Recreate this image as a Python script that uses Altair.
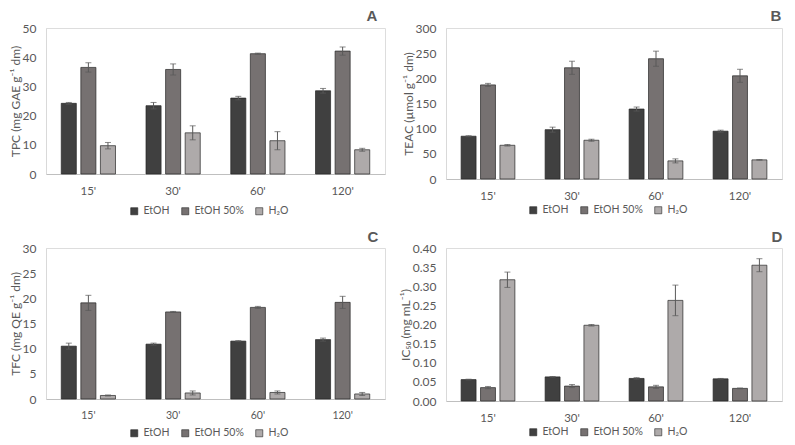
import altair as alt
import pandas as pd

times = ["15'", "30'", "60'", "120'"]
series = ["EtOH", "EtOH 50%", "H₂O"]
colors = ["#404040", "#767171", "#aeaaaa"]

# Panel A - TPC
tpc_etoh = [24.2, 23.4, 26.0, 28.5]
tpc_etoh_err = [0.3, 1.1, 0.6, 0.8]
tpc_etoh50 = [36.5, 35.8, 41.2, 42.1]
tpc_etoh50_err = [1.6, 1.9, 0.2, 1.4]
tpc_h2o = [9.7, 14.1, 11.4, 8.3]
tpc_h2o_err = [1.1, 2.4, 3.1, 0.5]

# Panel B - TEAC
teac_etoh = [85, 98, 139, 95]
teac_etoh_err = [1, 5, 4, 2]
teac_etoh50 = [187, 221, 239, 205]
teac_etoh50_err = [3, 13, 15, 13]
teac_h2o = [67, 77, 36, 38]
teac_h2o_err = [1.5, 2, 4, 0.5]

# Panel C - TFC
tfc_etoh = [10.5, 10.9, 11.5, 11.8]
tfc_etoh_err = [0.6, 0.2, 0.1, 0.3]
tfc_etoh50 = [19.1, 17.3, 18.2, 19.2]
tfc_etoh50_err = [1.5, 0.1, 0.2, 1.2]
tfc_h2o = [0.7, 1.2, 1.3, 1.0]
tfc_h2o_err = [0.1, 0.4, 0.3, 0.3]

# Panel D - IC50
ic_etoh = [0.056, 0.063, 0.059, 0.058]
ic_etoh_err = [0.001, 0.001, 0.002, 0.001]
ic_etoh50 = [0.035, 0.039, 0.037, 0.033]
ic_etoh50_err = [0.003, 0.004, 0.004, 0.001]
ic_h2o = [0.317, 0.198, 0.263, 0.355]
ic_h2o_err = [0.020, 0.002, 0.040, 0.017]

FONT = "Lato"
GREY = "#595959"


def make_df(vals, errs):
    rows = []
    for s, v, e in zip(series, vals, errs):
        for t, vv, ee in zip(times, v, e):
            rows.append({"time": t, "series": s, "value": vv,
                         "lo": vv - ee, "hi": vv + ee})
    return pd.DataFrame(rows)


def panel(df, ymax, step, ytitle, letter, fmt, w, h, lx, ly, letx, lety, xfs=11.5):
    base = alt.Chart(df)
    ticks = [round(i * step, 4) for i in range(int(round(ymax / step)) + 1)]
    x = alt.X("time:N", sort=times, title=None,
              scale=alt.Scale(paddingInner=0.36, paddingOuter=0.18),
              axis=alt.Axis(labelAngle=0, ticks=False, domainColor="#bfbfbf",
                            labelColor=GREY, labelFont=FONT, labelFontSize=xfs,
                            labelPadding=11))
    xo = alt.XOffset("series:N", sort=series,
                     scale=alt.Scale(paddingInner=0.23, paddingOuter=0))
    yscale = alt.Scale(domain=[0, ymax], nice=False, zero=True)
    yaxis = alt.Axis(values=ticks, format=fmt, grid=False, ticks=False,
                     domainColor="#d9d9d9", labelColor=GREY, labelFont=FONT,
                     labelFontSize=12, labelPadding=10, titleColor=GREY,
                     titleFont=FONT, titleFontSize=12, titleFontWeight="normal",
                     titlePadding=0)
    color = alt.Color("series:N", sort=series,
                      scale=alt.Scale(domain=series, range=colors),
                      legend=alt.Legend(orient="none", legendX=lx, legendY=ly,
                                        direction="horizontal", title=None,
                                        symbolType="square", symbolSize=50,
                                        symbolStrokeColor="#262626",
                                        symbolStrokeWidth=0.6,
                                        labelColor=GREY, labelFont=FONT,
                                        labelFontSize=10.5, columnPadding=10,
                                        labelOffset=4, gridAlign="none"))
    bars = base.mark_bar(stroke="#262626", strokeWidth=0.7).encode(
        x=x, xOffset=xo,
        y=alt.Y("value:Q", title=ytitle, scale=yscale, axis=yaxis),
        color=color)
    rules = base.mark_rule(color=GREY, strokeWidth=1).encode(
        x=x, xOffset=xo,
        y=alt.Y("lo:Q", title=ytitle, scale=yscale, axis=yaxis), y2="hi:Q")
    cap_hi = base.mark_tick(color=GREY, size=6, thickness=1).encode(
        x=x, xOffset=xo,
        y=alt.Y("hi:Q", title=ytitle, scale=yscale, axis=yaxis))
    cap_lo = base.mark_tick(color=GREY, size=6, thickness=1).encode(
        x=x, xOffset=xo,
        y=alt.Y("lo:Q", title=ytitle, scale=yscale, axis=yaxis))
    lab = alt.Chart(pd.DataFrame({"t": [letter]})).mark_text(
        font="Liberation Sans", fontSize=15, fontWeight="bold", color=GREY,
        align="center", baseline="middle").encode(
        text="t:N", x=alt.value(letx), y=alt.value(lety))
    return alt.layer(bars, rules, cap_hi, cap_lo, lab).properties(width=w, height=h)


A = panel(make_df([tpc_etoh, tpc_etoh50, tpc_h2o], [tpc_etoh_err, tpc_etoh50_err, tpc_h2o_err]),
          50, 10, "TPC (mg GAE g⁻¹ dm)", "A", "d", 339, 146, 83, 178, 326, -12)
B = panel(make_df([teac_etoh, teac_etoh50, teac_h2o], [teac_etoh_err, teac_etoh50_err, teac_h2o_err]),
          300, 50, "TEAC (µmol g⁻¹ dm)", "B", "d", 336, 151, 82, 177, 330, -12)
C = panel(make_df([tfc_etoh, tfc_etoh50, tfc_h2o], [tfc_etoh_err, tfc_etoh50_err, tfc_h2o_err]),
          30, 5, "TFC (mg QE g⁻¹ dm)", "C", "d", 339, 151, 83, 180, 327, -11, xfs=10.5)
D = panel(make_df([ic_etoh, ic_etoh50, ic_h2o], [ic_etoh_err, ic_etoh50_err, ic_h2o_err]),
          0.40, 0.05, "IC₅₀ (mg mL⁻¹)", "D", ".2f", 336, 153, 82, 179, 331, -11)

chart = alt.concat(A, B, C, D, columns=2, spacing={"row": 69, "column": 61},
                   bounds="flush").resolve_scale(
    color="independent", xOffset="independent", x="independent", y="independent"
).properties(padding={"left": 0, "top": 0, "right": 0, "bottom": 0}
).configure_view(stroke=None).configure(background="white")

chart.save("out.html", embed_options={"renderer": "svg", "actions": False})
